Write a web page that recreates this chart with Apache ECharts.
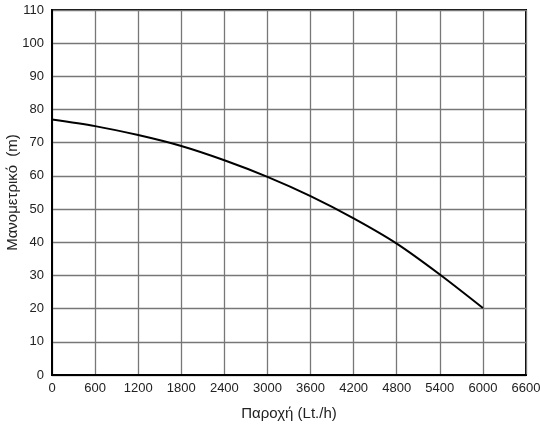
<!DOCTYPE html>
<html><head><meta charset="utf-8">
<script src="https://cdn.jsdelivr.net/npm/echarts@6/dist/echarts.min.js"></script>
<style>html,body{margin:0;padding:0;background:#fff}#c{width:540px;height:426px}</style>
</head><body><div id="c"></div>
<script>
const flow = [0, 600, 1200, 1800, 2400, 3000, 3600, 4200, 4800, 5400, 6000];
const head = [77, 75, 72.3, 69, 64.7, 59.7, 53.9, 47.2, 39.6, 30.3, 20.2];
const xName = 'Παροχή (Lt./h)';
const yName = 'Μανομετρικό  (m)';

const chart = echarts.init(document.getElementById('c'), null, {renderer: 'canvas'});
const font = 'Liberation Sans, Arial, sans-serif';
chart.setOption({
  animation: false,
  backgroundColor: '#fff',
  grid: {left: 52, right: 14, top: 10, bottom: 51, containLabel: false, outerBoundsMode: 'none',
         show: true, borderColor: '#000', borderWidth: 2},
  xAxis: {
    type: 'value', min: 0, max: 6600, interval: 600,
    name: xName, nameLocation: 'middle', nameGap: 31, nameMoveOverlap: false,
    nameTextStyle: {fontFamily: font, fontSize: 15, color: '#222'},
    axisLine: {lineStyle: {color: '#000', width: 2}},
    axisTick: {show: false},
    axisLabel: {fontFamily: font, fontSize: 13, color: '#222', margin: 7, formatter: v => String(v)},
    splitLine: {lineStyle: {color: '#777', width: 1.3}}
  },
  yAxis: {
    type: 'value', min: 0, max: 110, interval: 10,
    name: yName, nameLocation: 'middle', nameGap: 32, nameRotate: 90, nameMoveOverlap: false,
    nameTextStyle: {fontFamily: font, fontSize: 15, color: '#222'},
    axisLine: {lineStyle: {color: '#000', width: 2}},
    axisTick: {show: false},
    axisLabel: {fontFamily: font, fontSize: 13, color: '#222', margin: 8, formatter: v => String(v)},
    splitLine: {lineStyle: {color: '#777', width: 1.3}}
  },
  series: [{
    type: 'line', smooth: 0.3, showSymbol: false,
    data: flow.map((x, i) => [x, head[i]]),
    lineStyle: {color: '#000', width: 2}
  }]
});
</script></body></html>
